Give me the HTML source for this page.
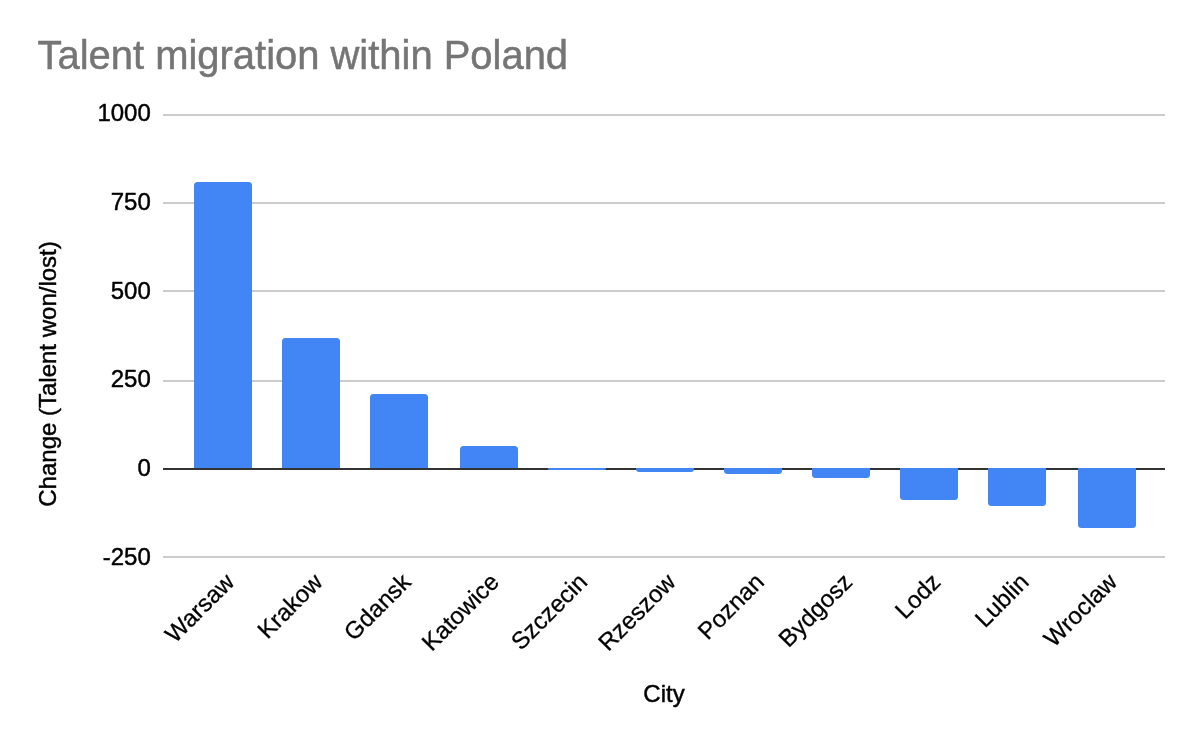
<!DOCTYPE html>
<html><head><meta charset="utf-8"><title>Talent migration within Poland</title>
<style>
html,body{margin:0;padding:0;background:#fff;}
body{width:1202px;height:744px;overflow:hidden;}
svg{display:block;}
text{font-family:"Liberation Sans",sans-serif;}
.t{font-size:39.95px;fill:#757575;stroke:#757575;stroke-width:0.5px;}
.a{font-size:24px;fill:#000;stroke:#000;stroke-width:0.45px;}
.r{stroke-width:0.3px;}
</style></head><body>
<svg xmlns="http://www.w3.org/2000/svg" width="1202" height="744" viewBox="0 0 1202 744">
<rect width="1202" height="744" fill="#ffffff"/>
<text class="t" x="37.5" y="69">Talent migration within Poland</text>
<rect x="163" y="114" width="1002" height="2" fill="#cccccc"/>
<rect x="163" y="202" width="1002" height="2" fill="#cccccc"/>
<rect x="163" y="290" width="1002" height="2" fill="#cccccc"/>
<rect x="163" y="380" width="1002" height="2" fill="#cccccc"/>
<rect x="163" y="556" width="1002" height="2" fill="#cccccc"/>
<rect x="163" y="468" width="1002" height="2" fill="#333333"/>
<path d="M194 468V185.5Q194 182 197.5 182H248.5Q252 182 252 185.5V468Z" fill="#4285f4"/>
<path d="M282 468V341.5Q282 338 285.5 338H336.5Q340 338 340 341.5V468Z" fill="#4285f4"/>
<path d="M370 468V397.5Q370 394 373.5 394H424.5Q428 394 428 397.5V468Z" fill="#4285f4"/>
<path d="M460 468V449.5Q460 446 463.5 446H514.5Q518 446 518 449.5V468Z" fill="#4285f4"/>
<path d="M548 468V468.4Q548 470 549.6 470H604.4Q606 470 606 468.4V468Z" fill="#4285f4"/>
<path d="M636 468V468.8Q636 472 639.2 472H690.8Q694 472 694 468.8V468Z" fill="#4285f4"/>
<path d="M724 468V470.5Q724 474 727.5 474H778.5Q782 474 782 470.5V468Z" fill="#4285f4"/>
<path d="M812 468V474.5Q812 478 815.5 478H866.5Q870 478 870 474.5V468Z" fill="#4285f4"/>
<path d="M900 468V496.5Q900 500 903.5 500H954.5Q958 500 958 496.5V468Z" fill="#4285f4"/>
<path d="M988 468V502.5Q988 506 991.5 506H1042.5Q1046 506 1046 502.5V468Z" fill="#4285f4"/>
<path d="M1078 468V524.5Q1078 528 1081.5 528H1132.5Q1136 528 1136 524.5V468Z" fill="#4285f4"/>
<text class="a" x="150.8" y="120.9" text-anchor="end">1000</text>
<text class="a" x="150.8" y="210.1" text-anchor="end">750</text>
<text class="a" x="150.8" y="299" text-anchor="end">500</text>
<text class="a" x="150.8" y="387" text-anchor="end">250</text>
<text class="a" x="150.8" y="476" text-anchor="end">0</text>
<text class="a" x="150.8" y="565.1" text-anchor="end">-250</text>
<text class="a r" transform="translate(235.7 583.4) rotate(-45)" text-anchor="end">Warsaw</text>
<text class="a r" transform="translate(324.0 583.4) rotate(-45)" text-anchor="end">Krakow</text>
<text class="a r" transform="translate(412.3 583.4) rotate(-45)" text-anchor="end">Gdansk</text>
<text class="a r" transform="translate(500.5 583.4) rotate(-45)" text-anchor="end">Katowice</text>
<text class="a r" transform="translate(588.8 583.4) rotate(-45)" text-anchor="end">Szczecin</text>
<text class="a r" transform="translate(677.1 583.4) rotate(-45)" text-anchor="end">Rzeszow</text>
<text class="a r" transform="translate(765.4 583.4) rotate(-45)" text-anchor="end">Poznan</text>
<text class="a r" transform="translate(853.7 583.4) rotate(-45)" text-anchor="end">Bydgosz</text>
<text class="a r" transform="translate(941.9 583.4) rotate(-45)" text-anchor="end">Lodz</text>
<text class="a r" transform="translate(1030.2 583.4) rotate(-45)" text-anchor="end">Lublin</text>
<text class="a r" transform="translate(1118.5 583.4) rotate(-45)" text-anchor="end">Wroclaw</text>
<text class="a" x="664" y="702" text-anchor="middle">City</text>
<text class="a" transform="translate(56 374) rotate(-90)" text-anchor="middle">Change (Talent won/lost)</text>
</svg></body></html>
